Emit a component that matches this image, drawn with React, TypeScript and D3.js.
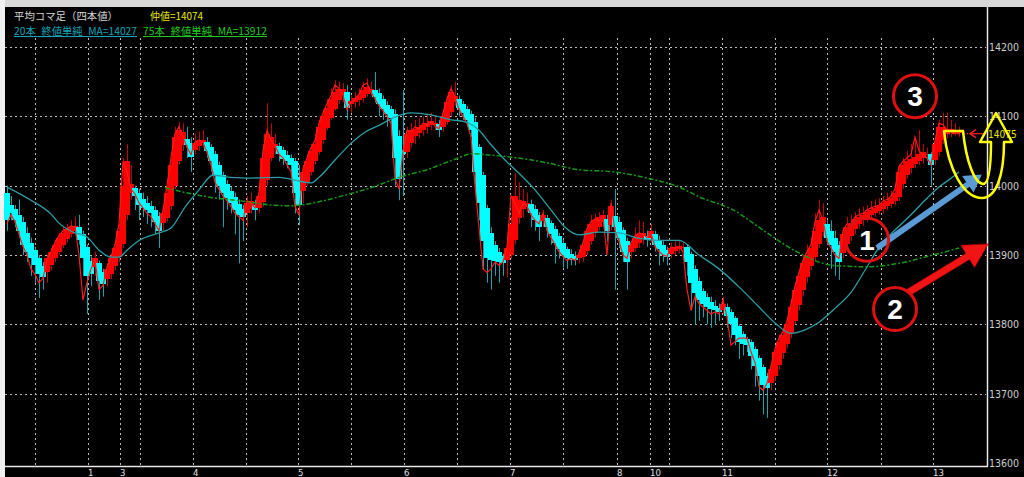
import React from "react";
import * as d3 from "d3";

// ---- Heikin-Ashi candles (price) ----
const haOpen = [13990,13972,13966,13958,13948,13932,13918,13907,13896,13884,13876,13885,13895,13905,13915,13923,13930,13935,13940,13930,13912,13892,13882,13888,13875,13866,13873,13884,13897,13916,13958,13990,13996,13990,13981,13975,13970,13965,13956,13946,13953,13970,14000,14035,14058,14068,14062,14052,14057,14061,14063,14056,14045,14030,14015,14002,13992,13983,13974,13966,13960,13967,13972,13968,13976,14008,14040,14055,14057,14051,14044,14040,14035,14012,13992,14006,14020,14035,14048,14066,14083,14098,14111,14123,14131,14135,14118,14120,14123,14126,14132,14137,14138,14133,14125,14117,14110,14104,14072,14052,14049,14062,14071,14076,14080,14084,14087,14088,14089,14084,14092,14106,14120,14125,14118,14111,14103,14092,14056,14015,13968,13932,13915,13905,13898,13893,13900,13922,13953,13966,13972,13973,13966,13958,13949,13953,13946,13938,13928,13918,13909,13902,13898,13895,13897,13906,13920,13932,13941,13948,13952,13943,13956,13948,13936,13920,13905,13910,13917,13923,13928,13925,13930,13922,13915,13907,13902,13906,13909,13911,13912,13901,13880,13862,13848,13839,13832,13827,13823,13820,13825,13818,13809,13797,13786,13779,13775,13765,13752,13738,13725,13716,13725,13742,13758,13772,13786,13805,13828,13849,13868,13884,13897,13916,13933,13944,13935,13925,13915,13903,13916,13928,13937,13944,13950,13954,13958,13961,13964,13967,13971,13974,13978,13984,14002,14016,14025,14031,14036,14040,14044,14045,14037,14048,14066,14075,14078,14078,14076];
const haClose = [13950,13960,13950,13935,13915,13905,13895,13885,13872,13868,13895,13905,13915,13925,13932,13937,13940,13942,13922,13895,13870,13872,13895,13862,13858,13880,13895,13910,13935,14000,14035,14002,13985,13972,13968,13965,13960,13948,13935,13960,13990,14030,14070,14080,14078,14058,14042,14062,14065,14066,14050,14035,14015,14000,13990,13982,13975,13965,13958,13955,13975,13978,13965,13985,14040,14075,14070,14060,14045,14038,14035,14030,13990,13972,14020,14035,14050,14060,14085,14100,14112,14125,14135,14140,14140,14112,14122,14126,14130,14138,14142,14140,14128,14118,14110,14103,14098,14040,14010,14046,14075,14080,14082,14085,14088,14090,14093,14090,14080,14100,14120,14135,14130,14112,14105,14095,14080,14020,13975,13920,13895,13893,13892,13890,13888,13910,13945,13985,13980,13978,13975,13960,13950,13940,13958,13940,13930,13918,13908,13900,13895,13893,13893,13900,13915,13935,13945,13950,13955,13957,13935,13970,13940,13925,13905,13890,13915,13925,13930,13932,13922,13935,13915,13908,13900,13897,13910,13912,13913,13912,13890,13860,13845,13835,13830,13825,13822,13820,13818,13830,13812,13800,13785,13775,13772,13770,13755,13740,13725,13712,13708,13735,13760,13775,13785,13800,13825,13850,13870,13888,13900,13910,13935,13950,13955,13925,13915,13905,13890,13930,13940,13945,13952,13955,13958,13962,13965,13968,13970,13975,13978,13982,13990,14020,14030,14035,14038,14042,14045,14048,14046,14030,14060,14085,14085,14082,14082,14080,14079];
const haHigh = [14000,13985,13972,13980,13955,13940,13925,13912,13900,13890,13900,13910,13922,13932,13940,13945,13950,13955,13958,13935,13915,13898,13905,13892,13880,13888,13900,13918,13945,14040,14060,14030,14000,13995,13990,13985,13978,13970,13962,13968,14000,14040,14085,14092,14090,14085,14070,14075,14078,14080,14070,14060,14050,14035,14020,14008,13998,13990,13980,13972,13985,13990,13980,13995,14060,14119,14090,14075,14062,14056,14050,14045,14040,14030,14030,14045,14060,14075,14095,14110,14125,14140,14152,14150,14148,14145,14130,14135,14140,14150,14155,14150,14164,14140,14130,14122,14115,14110,14080,14138,14085,14090,14095,14098,14100,14102,14105,14100,14095,14110,14130,14145,14150,14130,14122,14115,14108,14098,14060,14020,13972,13940,13920,13910,13902,13915,13955,14018,14005,13995,13990,13980,13972,13962,13965,13958,13950,13942,13932,13922,13912,13908,13905,13908,13922,13945,13958,13960,13962,13965,13958,13980,13995,13955,13940,13925,13920,13940,13950,13948,13935,13945,13935,13928,13920,13912,13918,13920,13920,13918,13915,13905,13885,13868,13852,13845,13840,13835,13830,13840,13830,13822,13812,13800,13790,13782,13778,13768,13755,13742,13730,13745,13770,13785,13795,13810,13835,13860,13880,13900,13915,13925,13960,13980,13975,13950,13950,13935,13920,13940,13955,13958,13962,13968,13970,13972,13978,13980,13982,13985,13990,13992,14000,14030,14040,14050,14060,14068,14080,14060,14055,14048,14070,14095,14105,14105,14095,14090,14085];
const haLow = [13935,13950,13940,13925,13900,13890,13870,13860,13838,13850,13860,13878,13890,13900,13910,13918,13925,13930,13915,13870,13815,13855,13870,13835,13840,13855,13865,13878,13890,13910,13950,13980,13965,13950,13955,13945,13940,13930,13910,13935,13948,13965,13995,14030,14050,14040,14020,14045,14050,14055,14040,14020,13990,13980,13940,13965,13960,13930,13888,13920,13940,13960,13950,13960,13970,14000,14035,14045,14035,14030,14025,14015,13960,13943,13975,14000,14015,14030,14045,14060,14080,14095,14108,14118,14120,14095,14105,14112,14115,14120,14128,14130,14120,14100,14095,14085,14080,14000,13979,13985,14040,14055,14060,14068,14072,14075,14080,14080,14070,14078,14088,14100,14115,14100,14095,14085,14070,14000,13950,13880,13860,13850,13870,13860,13870,13868,13895,13915,13945,13955,13962,13940,13935,13920,13940,13925,13915,13888,13895,13882,13880,13885,13885,13888,13890,13900,13915,13925,13935,13940,13920,13935,13850,13910,13890,13850,13895,13905,13910,13915,13912,13918,13905,13885,13890,13885,13895,13900,13902,13905,13870,13820,13800,13805,13810,13800,13795,13800,13805,13815,13795,13780,13770,13750,13755,13760,13735,13710,13690,13670,13665,13705,13718,13735,13750,13765,13780,13800,13820,13840,13860,13878,13890,13910,13925,13915,13880,13870,13864,13895,13910,13920,13930,13938,13942,13948,13950,13955,13958,13960,13965,13968,13972,13978,13995,14010,14018,14025,14030,14032,14035,14000,14030,14042,14060,14068,14070,14072,14070];
// ---- actual close (thin red line) ----
const closeLine = [13945,13958,13948,13930,13912,13900,13880,13872,13860,13866,13893,13905,13918,13928,13935,13938,13942,13940,13900,13835,13860,13880,13893,13850,13856,13882,13898,13915,13945,14035,14020,13995,13988,13975,13968,13960,13955,13945,13935,13965,14000,14040,14075,14085,14070,14055,14045,14063,14066,14062,14048,14030,14005,13995,13985,13978,13970,13960,13955,13950,13978,13975,13968,13990,14050,14080,14065,14058,14045,14040,14030,14020,13970,13958,14025,14040,14055,14065,14090,14105,14118,14130,14145,14140,14130,14110,14120,14125,14132,14145,14148,14135,14125,14115,14108,14100,14090,14010,13995,14050,14080,14078,14085,14082,14090,14088,14092,14086,14082,14105,14125,14140,14128,14110,14100,14090,14070,14000,13940,13880,13875,13880,13890,13885,13890,13912,13985,13975,13960,13975,13970,13958,13950,13945,13960,13935,13925,13915,13905,13898,13892,13895,13892,13902,13918,13938,13948,13952,13950,13955,13900,13975,13935,13920,13900,13895,13918,13928,13932,13930,13925,13932,13912,13905,13900,13898,13912,13910,13912,13905,13850,13820,13840,13830,13825,13820,13815,13818,13815,13835,13810,13770,13775,13780,13780,13780,13760,13745,13710,13705,13715,13740,13765,13780,13790,13805,13830,13855,13875,13892,13905,13915,13948,13965,13950,13920,13910,13900,13895,13935,13945,13945,13955,13958,13960,13965,13968,13970,13972,13978,13980,13985,13995,14028,14035,14040,14045,14070,14050,14045,14040,14030,14065,14090,14088,14080,14078,14076,14075];

// ---- moving averages (candle index, value) ----
const ma20Idx = [0,6,11,13,16.5,20,23,26,28,30,33,38,41,44.5,48,51.5,56,61,68,72,76,78,82,86,89.5,93,97,101,106,111,114.5,118,121,124.5,128,132,136,139.5,143,148,153,158,163,168,173,178,183,188,192,196,199.5,203,207,211,214.5,218,222,226,229.5,233,237,238];
const ma20Val = [13998,13979,13959,13946,13933,13926,13907,13897,13897,13907,13921,13932,13939,13969,13994,14015,14012,14011,14012,14008,14004,14012,14037,14061,14077,14087,14099,14105,14102,14095,14092,14080,14059,14037,14018,13994,13965,13940,13929,13933,13932,13924,13921,13921,13900,13880,13854,13825,13802,13787,13792,13803,13823,13846,13878,13911,13936,13958,13979,13998,14015,14020];
const ma75Idx = [39.5,48,61,66,71,76.5,83,91.5,98,105,111.5,116.5,121,126.5,135,143,151.5,160,168,173,181.5,190,198,206.5,215,223,231.5,238];
const ma75Val = [13997,13986,13976,13972,13971,13975,13984,13998,14012,14023,14037,14046,14044,14041,14033,14023,14020,14011,13998,13984,13965,13932,13903,13885,13883,13888,13900,13910];

// ---- axes ----
const priceTicks = [14200, 14100, 14000, 13900, 13800, 13700, 13600];
const gridIdx = [7,20.25,28.25,33.25,46.5,59.75,72.75,86,99.25,112.5,125.75,139,152.5,160.75,165.5,178.75,192,205,218.5,231.5];
const dayLabelIdx = [20.25,28.25,46.5,72.75,99.25,125.75,152.5,160.75,178.75,205,231.5];
const dayLabels = ["1","3","4","5","6","7","8","10","11","12","13"];
const lastPrice = 14075;

const W = 1024, H = 477;
const PLOT_L = 5, PLOT_R = 987, PLOT_B = 466;

export default function App() {
  const n = haOpen.length;
  const x = d3.scaleLinear().domain([0, n - 1]).range([7, 959]);
  const y = d3.scaleLinear().domain([13600, 14200]).range([463, 47]);
  const step = x(1) - x(0);
  const bodyW = Math.round(step) + 2;

  const ma20 = ma20Idx.map((i, k) => [i, ma20Val[k]] as [number, number]);
  const ma75 = ma75Idx.map((i, k) => [i, ma75Val[k]] as [number, number]);
  const maLine = d3.line<[number, number]>().x(d => x(d[0])).y(d => y(d[1])).curve(d3.curveMonotoneX);
  const cLine = d3.line<number>().x((_, i) => x(i)).y(d => y(d));

  const arrow = (x1: number, y1: number, x2: number, y2: number, w: number, hl: number, hw: number) => {
    const dx = x2 - x1, dy = y2 - y1, L = Math.hypot(dx, dy);
    const ux = dx / L, uy = dy / L, px = -uy, py = ux;
    const bx = x2 - ux * hl, by = y2 - uy * hl;
    const pts = [
      [x1 + px * w / 2, y1 + py * w / 2], [bx + px * w / 2, by + py * w / 2], [bx + px * hw, by + py * hw],
      [x2, y2], [bx - px * hw, by - py * hw], [bx - px * w / 2, by - py * w / 2], [x1 - px * w / 2, y1 - py * w / 2],
    ];
    return "M" + pts.map(p => p[0].toFixed(1) + "," + p[1].toFixed(1)).join("L") + "Z";
  };

  const yl = y(lastPrice);
  const fontJ = "'Noto Sans CJK JP', 'Noto Sans', sans-serif";
  const fontN = "'Liberation Sans Narrow', 'Arial Narrow', 'DejaVu Sans Condensed', sans-serif";

  // annotation anchors in data space
  const c1 = [x(215), y(13922)], c2 = [x(222), y(13822)], c3 = [x(227), y(14129)];
  const bA = [x(217.5), y(13910)], bB = [x(243.7), y(14016)];
  const rA = [x(224.5), y(13843)], rB = [x(245.3), y(13916)];

  return (
    <div style={{ position: "absolute", left: 0, top: 0 }}>
      <svg width={W} height={H} style={{ display: "block" }}>
        <rect x={0} y={0} width={W} height={H} fill="#000" />
        <rect x={0} y={0} width={W} height={7} fill="#d8d8d8" />
        <rect x={0} y={0} width={PLOT_L} height={H} fill="#f0f0f0" />

        {/* grid */}
        {priceTicks.slice(0, -1).map(p => (
          <line key={p} x1={PLOT_L} x2={PLOT_R - 1} y1={Math.round(y(p)) + 0.5} y2={Math.round(y(p)) + 0.5}
            stroke="#bdbdbd" strokeWidth={1} strokeDasharray="2,3" />
        ))}
        {gridIdx.map((g, k) => (
          <line key={k} x1={Math.round(x(g)) + 0.5} x2={Math.round(x(g)) + 0.5} y1={38} y2={PLOT_B}
            stroke="#bdbdbd" strokeWidth={1} strokeDasharray="2,3" />
        ))}

        {/* wicks */}
        {haOpen.map((o, i) => {
          const up = haClose[i] >= o;
          const cx = Math.round(x(i)) + 0.5;
          return <line key={"w" + i} x1={cx} x2={cx} y1={y(haHigh[i])} y2={y(haLow[i])}
            stroke={up ? "#c80000" : "#1aa3ad"} strokeWidth={1} />;
        })}
        {/* bodies */}
        {haOpen.map((o, i) => {
          const c = haClose[i];
          const up = c >= o;
          const top = y(Math.max(o, c)), bot = y(Math.min(o, c));
          return <rect key={"b" + i} x={Math.round(x(i) - bodyW / 2)} width={bodyW} y={top}
            height={Math.max(1.5, bot - top)} fill={up ? "#ff0000" : "#00ffff"} shapeRendering="crispEdges" />;
        })}
        {/* close line */}
        <path d={cLine(closeLine) || ""} fill="none" stroke="#ff1a1a" strokeWidth={1.2} />
        {/* MAs */}
        <path d={maLine(ma75) || ""} fill="none" stroke="#119911" strokeWidth={1.5} strokeDasharray="5,2,2,2" />
        <path d={maLine(ma20) || ""} fill="none" stroke="#2a9ea4" strokeWidth={1.3} />

        {/* frame */}
        <line x1={PLOT_R + 0.5} x2={PLOT_R + 0.5} y1={7} y2={PLOT_B + 0.5} stroke="#e8e8e8" strokeWidth={1.5} />
        <line x1={PLOT_L} x2={PLOT_R + 1} y1={PLOT_B + 0.5} y2={PLOT_B + 0.5} stroke="#e8e8e8" strokeWidth={1.5} />

        {/* price labels */}
        {priceTicks.map(p => (
          <text key={p} x={989} y={y(p) + 4} fill="#cfcfcf" fontSize={10.5} fontFamily={fontN}>{p}</text>
        ))}
        {/* day labels */}
        {dayLabelIdx.map((g, k) => (
          <text key={k} x={Math.round(x(g))} y={476} fill="#e0e0e0" fontSize={9.5} fontFamily={fontN}>{dayLabels[k]}</text>
        ))}

        {/* current price marker */}
        <line x1={x(235)} x2={968} y1={yl} y2={yl} stroke="#ff2020" strokeWidth={1.2} strokeDasharray="3,2" />
        <line x1={970} x2={986} y1={yl} y2={yl} stroke="#ff2020" strokeWidth={1.2} />
        <path d={`M976,${yl - 4}L970,${yl}L976,${yl + 4}`} fill="none" stroke="#ff2020" strokeWidth={1.4} />
        <text x={988} y={yl + 4} fill="#e8e800" fontSize={10} fontFamily={fontN}>{lastPrice}</text>

        {/* header */}
        <text x={14} y={20} fill="#d6d6d6" fontSize={10.5} fontFamily={fontJ} textLength={104} lengthAdjust="spacingAndGlyphs">平均コマ足（四本値）</text>
        <text x={150} y={20} fill="#e8e800" fontSize={10.5} fontFamily={fontJ} textLength={53} lengthAdjust="spacingAndGlyphs">仲値=14074</text>
        <text x={14} y={35} fill="#15a3b8" fontSize={10.5} fontFamily={fontJ} textLength={123} lengthAdjust="spacingAndGlyphs" style={{ textDecoration: "underline" }}>20本_終値単純_MA=14027</text>
        <text x={143} y={35} fill="#22c822" fontSize={10.5} fontFamily={fontJ} textLength={124} lengthAdjust="spacingAndGlyphs" style={{ textDecoration: "underline" }}>75本_終値単純_MA=13912</text>

        {/* annotations */}
        <path d={arrow(bA[0], bA[1], bB[0], bB[1], 6, 17, 10)} fill="#5b9bd5" />
        <path d={arrow(rA[0], rA[1], rB[0], rB[1], 7, 24, 13)} fill="#f01414" stroke="#b00000" strokeWidth={0.6} />
        {[c1, c2, c3].map((c, k) => (
          <g key={k}>
            <circle cx={c[0]} cy={c[1]} r={21.5} fill={k === 0 ? "none" : "#000"} stroke="#e01010" strokeWidth={3} />
            <text x={c[0]} y={c[1] + 10} textAnchor="middle" fill="#fff" fontSize={28} fontWeight="bold"
              fontFamily="'Liberation Sans', Arial, sans-serif">{k + 1}</text>
          </g>
        ))}
        <path d="M944,131 L963,131 C966,160 974,183 983,184 C989,184 991,165 991,142 L980,142 L996,113 L1012,142 L1004,142 C1004,176 996,198 982,198 C964,198 948,170 944,131 Z"
          fill="none" stroke="#ffff00" strokeWidth={2.5} strokeLinejoin="round" />
      </svg>
    </div>
  );
}
